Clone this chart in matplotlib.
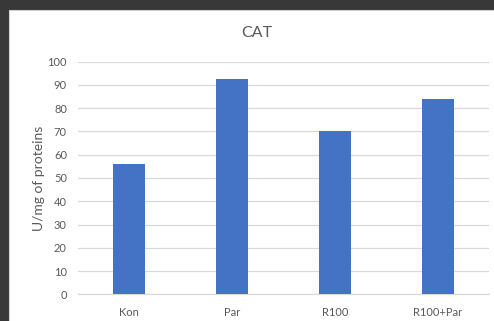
import matplotlib.pyplot as plt
from matplotlib.patches import Rectangle

groups = ["Kon", "Par", "R100", "R100+Par"]
cat_activity = [56, 92.5, 70, 84]
y_ticks = list(range(0, 101, 10))

bar_color = "#4472C4"
text_color = "#595959"
grid_color = "#D9D9D9"

plt.rcParams["font.family"] = ["Lato", "DejaVu Sans"]

fig = plt.figure(figsize=(4.94, 3.21), dpi=100, facecolor="#383838")

# white chart panel sitting on the dark window background
panel = Rectangle((9 / 494, -0.01), 1, (321 - 10) / 321 + 0.01, transform=fig.transFigure,
                  facecolor="white", edgecolor="#D0D0D0", linewidth=0.8, zorder=-5)
fig.patches.append(panel)

ax = fig.add_axes([78 / 494, (321 - 294.3) / 321, (489 - 78) / 494, (294.3 - 61.7) / 321])
ax.set_zorder(2)
ax.set_facecolor("white")

x = range(len(groups))
ax.bar(x, cat_activity, width=0.31, color=bar_color, zorder=3)

ax.set_xlim(-0.5, len(groups) - 0.5)
ax.set_ylim(0, 100)
ax.set_yticks(y_ticks)
ax.set_xticks(list(x))
ax.set_xticklabels(groups)
ax.grid(axis="y", color=grid_color, linewidth=0.9, zorder=0)

for s in ["top", "right", "left"]:
    ax.spines[s].set_visible(False)
ax.spines["bottom"].set_color(grid_color)
ax.spines["bottom"].set_linewidth(0.9)

ax.tick_params(axis="both", length=0, colors=text_color, labelsize=8)
ax.tick_params(axis="y", pad=8)
ax.tick_params(axis="x", pad=9)

ax.set_ylabel("U/mg of proteins", color=text_color, fontsize=10, labelpad=2)

fig.text(257 / 494, 1 - 33 / 321, "CAT", ha="center", va="center",
         color=text_color, fontsize=11.5, zorder=3)

fig.savefig("out.png", dpi=100, facecolor=fig.get_facecolor())
